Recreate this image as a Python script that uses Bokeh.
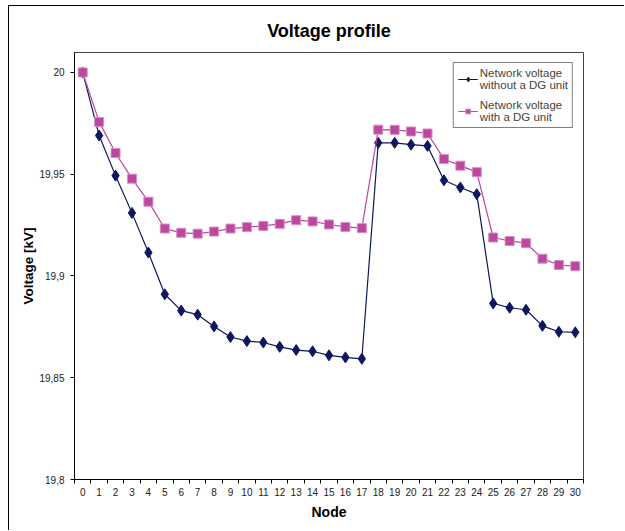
from bokeh.plotting import figure
from bokeh.models import ColumnDataSource, FixedTicker, Legend, LegendItem, Range1d
from bokeh.embed import file_html
from bokeh.resources import INLINE

nodes = list(range(31))
v_without_dg = [20.0, 19.969, 19.9493, 19.931, 19.9115, 19.891, 19.883, 19.881, 19.8752,
                19.870, 19.868, 19.8673, 19.8652, 19.8636, 19.863, 19.861, 19.860, 19.8593,
                19.9654, 19.9654, 19.9645, 19.9639, 19.947, 19.9435, 19.9402, 19.8865,
                19.8844, 19.8834, 19.8755, 19.8726, 19.8723]
v_with_dg = [20.0, 19.9757, 19.9604, 19.9478, 19.9365, 19.9233, 19.9212, 19.9208, 19.9218,
             19.9233, 19.924, 19.9246, 19.9256, 19.9274, 19.9268, 19.9253, 19.9241, 19.9235,
             19.9719, 19.9718, 19.971, 19.970, 19.9575, 19.9542, 19.951, 19.9189, 19.9172,
             19.9161, 19.9085, 19.9054, 19.9048]
y_ticks = [19.8, 19.85, 19.9, 19.95, 20.0]
y_tick_labels = ["19,8", "19,85", "19,9", "19,95", "20"]
series_names = ["Network voltage\nwithout a DG unit", "Network voltage\nwith a DG unit"]

NAVY = "#0c175f"
PINK = "#bb479f"
FONT = "Liberation Sans"

src = ColumnDataSource(dict(x=nodes, a=v_without_dg, b=v_with_dg))

p = figure(width=616, height=525, output_backend="svg", toolbar_location=None,
           x_range=Range1d(-0.5, 30.5), y_range=Range1d(19.8, 20.0098),
           min_border_left=65, min_border_right=42, min_border_top=46, min_border_bottom=52,
           title="Voltage profile")
p.styles = {"margin-left": "8px", "margin-top": "5px",
            "border-left": "1px solid black", "border-top": "1px solid black"}

p.title.align = "center"
p.title.text_font = FONT
p.title.text_font_size = "18px"
p.title.text_font_style = "bold"
p.title.text_color = "black"
p.title.offset = 0
p.title.standoff = 24

p.grid.visible = False
p.outline_line_color = "#444444"
p.outline_line_width = 1

# y axis
p.yaxis.ticker = FixedTicker(ticks=y_ticks, minor_ticks=[])
p.yaxis.major_label_overrides = {t: l for t, l in zip(y_ticks, y_tick_labels)}
p.yaxis.axis_label = "Voltage [kV]"
# x axis
p.xaxis.ticker = FixedTicker(ticks=nodes, minor_ticks=[n + 0.5 for n in range(-1, 31)])
p.xaxis.axis_label = "Node"

for ax in (p.xaxis[0], p.yaxis[0]):
    ax.axis_line_color = "black"
    ax.axis_line_width = 1
    ax.major_label_text_font = FONT
    ax.major_label_text_font_size = "10px"
    ax.major_label_text_color = "#222222"
    ax.axis_label_text_font = FONT
    ax.axis_label_text_font_size = "13.5px"
    ax.axis_label_text_font_style = "bold"
    ax.axis_label_text_color = "black"

p.xaxis.axis_label_text_font_size = "14px"

p.yaxis.major_tick_in = 0
p.yaxis.major_tick_out = 4
p.yaxis.major_tick_line_color = "black"
p.yaxis.major_label_standoff = 6
p.yaxis.axis_label_standoff = 0

p.xaxis.major_tick_in = 0
p.xaxis.major_tick_out = 0
p.xaxis.minor_tick_in = 0
p.xaxis.minor_tick_out = 4
p.xaxis.minor_tick_line_color = "black"
p.xaxis.major_label_standoff = 4
p.xaxis.axis_label_standoff = 5

l1 = p.line("x", "a", source=src, line_color=NAVY, line_width=1.2)
s1 = p.scatter("x", "a", source=src, marker="diamond", size=11, fill_color=NAVY, line_color=NAVY)
l2 = p.line("x", "b", source=src, line_color=PINK, line_width=1.2)
s2 = p.scatter("x", "b", source=src, marker="square", size=9, fill_color=PINK, line_color="#d98cc6")

legend = Legend(items=[LegendItem(label=series_names[0], renderers=[l1, s1]),
                       LegendItem(label=series_names[1], renderers=[l2, s2])],
                location="top_right")
legend.margin = 10
legend.padding = 4
legend.spacing = 8
legend.glyph_width = 20
legend.glyph_height = 12
legend.label_standoff = 2
legend.label_text_font = FONT
legend.label_text_font_size = "11.5px"
legend.label_text_line_height = 1.1
legend.border_line_color = "black"
legend.border_line_width = 1
legend.background_fill_alpha = 1
p.add_layout(legend)

open("out.html", "w").write(file_html(p, INLINE))
